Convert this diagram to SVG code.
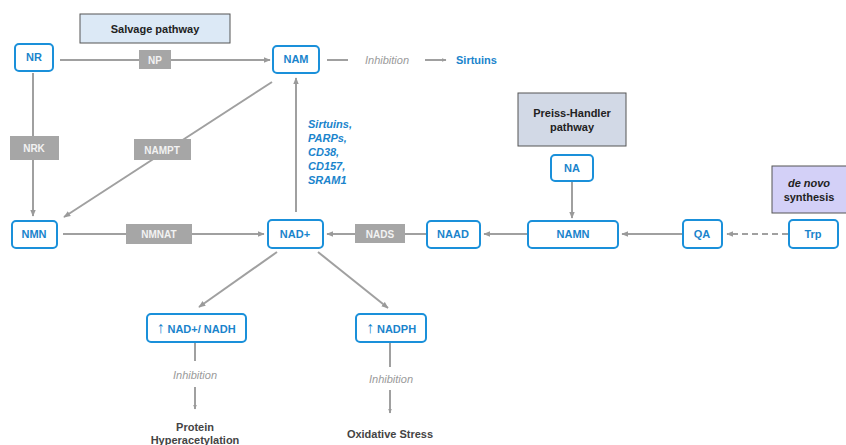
<svg xmlns="http://www.w3.org/2000/svg" width="846" height="445" viewBox="0 0 846 445">
<defs>
<marker id="ah" viewBox="0 0 10 10" refX="9" refY="5" markerWidth="7" markerHeight="7" orient="auto" markerUnits="userSpaceOnUse"><path d="M0,1 L10,5 L0,9 z" fill="#9a9a9a"/></marker>
<marker id="ahs" viewBox="0 0 10 10" refX="9" refY="5" markerWidth="5" markerHeight="5" orient="auto" markerUnits="userSpaceOnUse"><path d="M0,1 L10,5 L0,9 z" fill="#9a9a9a"/></marker>
<style>
.n rect{fill:#fff;stroke:#1a90da;stroke-width:2}
.n text{font-family:"Liberation Sans",Arial,sans-serif;font-weight:bold;font-size:11px;fill:#1a84cc;text-anchor:middle}
.e rect{fill:#a6a6a6}
.e text{font-family:"Liberation Sans",Arial,sans-serif;font-weight:bold;font-size:10px;fill:#f2f2f2;text-anchor:middle}
.p text{font-family:"Liberation Sans",Arial,sans-serif;font-weight:bold;font-size:11px;fill:#222;text-anchor:middle}
.c line,.c path{stroke:#a0a0a0;stroke-width:2;fill:none}
.inh{font-family:"Liberation Sans",Arial,sans-serif;font-style:italic;font-size:11px;fill:#9a9a9a;text-anchor:middle}
.out{font-family:"Liberation Sans",Arial,sans-serif;font-weight:bold;font-size:11px;fill:#444;text-anchor:middle}
.blue{font-family:"Liberation Sans",Arial,sans-serif;font-weight:bold;font-size:11px;fill:#1a84cc}
.up{font-size:16px;font-weight:normal}
</style>
</defs>
<rect width="846" height="445" fill="#fff"/>

<g class="c" id="connectors">
<line x1="60" y1="60" x2="270" y2="60" marker-end="url(#ah)"/>
<line x1="33" y1="73" x2="33" y2="216" marker-end="url(#ah)"/>
<line x1="272" y1="82" x2="64" y2="217" marker-end="url(#ah)"/>
<line x1="63" y1="234" x2="264" y2="234" marker-end="url(#ah)"/>
<line x1="296" y1="212" x2="296" y2="78" marker-end="url(#ah)"/>
<line x1="427" y1="234" x2="327" y2="234" marker-end="url(#ah)"/>
<line x1="527" y1="234" x2="484" y2="234" marker-end="url(#ah)"/>
<line x1="572" y1="182" x2="572" y2="218" marker-end="url(#ah)"/>
<line x1="682" y1="234" x2="622" y2="234" marker-end="url(#ah)"/>
<line x1="788" y1="234" x2="727" y2="234" stroke-dasharray="6,4" marker-end="url(#ah)"/>
<line x1="277" y1="252" x2="199" y2="307" marker-end="url(#ah)"/>
<line x1="318" y1="252" x2="388" y2="308" marker-end="url(#ah)"/>
<line x1="327" y1="60" x2="348" y2="60"/>
<line x1="425" y1="60" x2="446" y2="60" marker-end="url(#ahs)"/>
<line x1="195" y1="343" x2="195" y2="361" stroke-width="1"/>
<line x1="195" y1="387" x2="195" y2="409" stroke-width="1" marker-end="url(#ahs)"/>
<line x1="390" y1="343" x2="390" y2="367" stroke-width="1"/>
<line x1="390" y1="390" x2="390" y2="413" stroke-width="1" marker-end="url(#ahs)"/>
</g>

<g class="p" id="salvage"><rect x="80" y="14" width="150" height="29" fill="#dce9f6" stroke="#555" stroke-width="1"/><text x="155" y="33">Salvage pathway</text></g>
<g class="p" id="preiss"><rect x="518" y="93" width="108" height="53" fill="#d2d9e6" stroke="#555" stroke-width="1"/><text x="572" y="117">Preiss-Handler</text><text x="572" y="131">pathway</text></g>
<g class="p" id="denovo"><rect x="772" y="166" width="76" height="47" fill="#d3d0f7" stroke="#555" stroke-width="1"/><text x="809" y="187" font-style="italic">de novo</text><text x="809" y="201">synthesis</text></g>

<g class="e" id="NP"><rect x="139" y="50" width="32" height="19"/><text x="155" y="64">NP</text></g>
<g class="e" id="NRK"><rect x="10" y="136" width="49" height="24"/><text x="34" y="152">NRK</text></g>
<g class="e" id="NAMPT"><rect x="134" y="139" width="57" height="21"/><text x="162" y="154">NAMPT</text></g>
<g class="e" id="NMNAT"><rect x="126" y="224" width="66" height="20"/><text x="159" y="238">NMNAT</text></g>
<g class="e" id="NADS"><rect x="355" y="224" width="50" height="19"/><text x="380" y="238">NADS</text></g>

<g class="n" id="NR"><rect x="15" y="44" width="38" height="27" rx="4"/><text x="34" y="61">NR</text></g>
<g class="n" id="NAM"><rect x="273" y="46" width="46" height="27" rx="4"/><text x="296" y="63">NAM</text></g>
<g class="n" id="NMN"><rect x="12" y="221" width="45" height="27" rx="4"/><text x="34" y="238">NMN</text></g>
<g class="n" id="NADplus"><rect x="268" y="220" width="55" height="28" rx="4"/><text x="295" y="238">NAD+</text></g>
<g class="n" id="NAAD"><rect x="427" y="221" width="53" height="27" rx="4"/><text x="453" y="238">NAAD</text></g>
<g class="n" id="NAMN"><rect x="528" y="221" width="90" height="27" rx="4"/><text x="573" y="238">NAMN</text></g>
<g class="n" id="NA"><rect x="551" y="155" width="42" height="26" rx="4"/><text x="572" y="172">NA</text></g>
<g class="n" id="QA"><rect x="683" y="220" width="39" height="28" rx="4"/><text x="702" y="238">QA</text></g>
<g class="n" id="Trp"><rect x="789" y="220" width="49" height="28" rx="4"/><text x="813" y="238">Trp</text></g>
<g class="n" id="NADratio"><rect x="147" y="314" width="99" height="28" rx="4"/><text x="196" y="333"><tspan class="up">↑</tspan> NAD+/ NADH</text></g>
<g class="n" id="NADPH"><rect x="356" y="314" width="70" height="28" rx="4"/><text x="391" y="333"><tspan class="up">↑</tspan> NADPH</text></g>

<g id="labels">
<text class="inh" x="387" y="64">Inhibition</text>
<text class="blue" x="456" y="64">Sirtuins</text>
<text class="blue" font-style="italic" x="308" y="128">Sirtuins,</text>
<text class="blue" font-style="italic" x="308" y="142">PARPs,</text>
<text class="blue" font-style="italic" x="308" y="156">CD38,</text>
<text class="blue" font-style="italic" x="308" y="170">CD157,</text>
<text class="blue" font-style="italic" x="308" y="184">SRAM1</text>
<text class="inh" x="195" y="379">Inhibition</text>
<text class="inh" x="391" y="383">Inhibition</text>
<text class="out" x="195" y="431">Protein</text>
<text class="out" x="195" y="444">Hyperacetylation</text>
<text class="out" x="390" y="438">Oxidative Stress</text>
</g>
</svg>
